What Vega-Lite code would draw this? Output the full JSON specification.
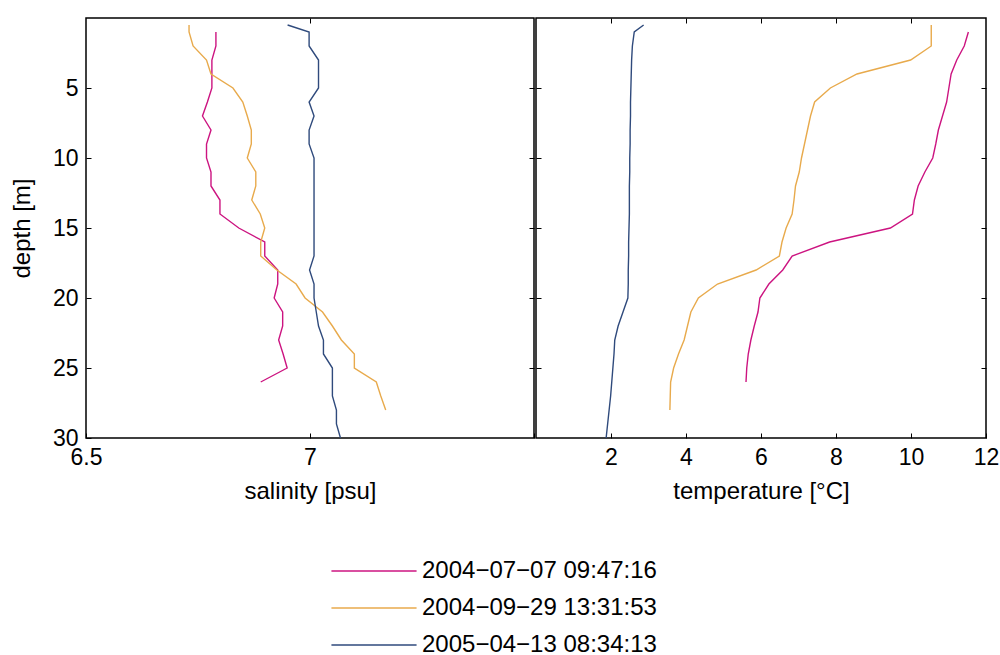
{
  "$schema": "https://vega.github.io/schema/vega-lite/v6.json",
  "padding": {"left": 9, "top": 16, "right": 5, "bottom": 0},
  "background": "white",
  "config": {
    "font": "Liberation Sans",
    "view": {"stroke": "black", "strokeWidth": 1.5},
    "axis": {
      "grid": false,
      "domain": false,
      "tickColor": "black",
      "tickSize": -5,
      "tickWidth": 1,
      "labelColor": "black",
      "labelFont": "Liberation Sans",
      "labelFontSize": 23,
      "labelPadding": 13,
      "titleFont": "Liberation Sans",
      "titleFontSize": 24,
      "titleFontWeight": "normal",
      "titleColor": "black"
    },
    "legend": {
      "labelFont": "Liberation Sans",
      "labelFontSize": 24,
      "labelColor": "black",
      "labelLimit": 500
    }
  },
  "data": {
    "values": [
      {"date": "2004−07−07 09:47:16", "depth": 1, "salinity": 6.790, "temperature": 11.53},
      {"date": "2004−07−07 09:47:16", "depth": 2, "salinity": 6.790, "temperature": 11.42},
      {"date": "2004−07−07 09:47:16", "depth": 3, "salinity": 6.781, "temperature": 11.22},
      {"date": "2004−07−07 09:47:16", "depth": 4, "salinity": 6.781, "temperature": 11.07},
      {"date": "2004−07−07 09:47:16", "depth": 5, "salinity": 6.781, "temperature": 11.01},
      {"date": "2004−07−07 09:47:16", "depth": 6, "salinity": 6.771, "temperature": 10.95},
      {"date": "2004−07−07 09:47:16", "depth": 7, "salinity": 6.760, "temperature": 10.84},
      {"date": "2004−07−07 09:47:16", "depth": 8, "salinity": 6.779, "temperature": 10.73},
      {"date": "2004−07−07 09:47:16", "depth": 9, "salinity": 6.769, "temperature": 10.66},
      {"date": "2004−07−07 09:47:16", "depth": 10, "salinity": 6.769, "temperature": 10.58},
      {"date": "2004−07−07 09:47:16", "depth": 11, "salinity": 6.779, "temperature": 10.37},
      {"date": "2004−07−07 09:47:16", "depth": 12, "salinity": 6.779, "temperature": 10.19},
      {"date": "2004−07−07 09:47:16", "depth": 13, "salinity": 6.799, "temperature": 10.09},
      {"date": "2004−07−07 09:47:16", "depth": 14, "salinity": 6.799, "temperature": 10.04},
      {"date": "2004−07−07 09:47:16", "depth": 15, "salinity": 6.841, "temperature": 9.45},
      {"date": "2004−07−07 09:47:16", "depth": 16, "salinity": 6.899, "temperature": 7.83},
      {"date": "2004−07−07 09:47:16", "depth": 17, "salinity": 6.899, "temperature": 6.83},
      {"date": "2004−07−07 09:47:16", "depth": 18, "salinity": 6.928, "temperature": 6.58},
      {"date": "2004−07−07 09:47:16", "depth": 19, "salinity": 6.928, "temperature": 6.21},
      {"date": "2004−07−07 09:47:16", "depth": 20, "salinity": 6.920, "temperature": 5.97},
      {"date": "2004−07−07 09:47:16", "depth": 21, "salinity": 6.939, "temperature": 5.92},
      {"date": "2004−07−07 09:47:16", "depth": 22, "salinity": 6.939, "temperature": 5.82},
      {"date": "2004−07−07 09:47:16", "depth": 23, "salinity": 6.930, "temperature": 5.73},
      {"date": "2004−07−07 09:47:16", "depth": 24, "salinity": 6.940, "temperature": 5.66},
      {"date": "2004−07−07 09:47:16", "depth": 25, "salinity": 6.949, "temperature": 5.62},
      {"date": "2004−07−07 09:47:16", "depth": 26, "salinity": 6.890, "temperature": 5.60},

      {"date": "2004−09−29 13:31:53", "depth": 0.5, "salinity": 6.730, "temperature": 10.54},
      {"date": "2004−09−29 13:31:53", "depth": 1, "salinity": 6.730, "temperature": 10.54},
      {"date": "2004−09−29 13:31:53", "depth": 2, "salinity": 6.739, "temperature": 10.54},
      {"date": "2004−09−29 13:31:53", "depth": 3, "salinity": 6.769, "temperature": 9.99},
      {"date": "2004−09−29 13:31:53", "depth": 4, "salinity": 6.779, "temperature": 8.56},
      {"date": "2004−09−29 13:31:53", "depth": 5, "salinity": 6.828, "temperature": 7.85},
      {"date": "2004−09−29 13:31:53", "depth": 6, "salinity": 6.850, "temperature": 7.43},
      {"date": "2004−09−29 13:31:53", "depth": 7, "salinity": 6.860, "temperature": 7.32},
      {"date": "2004−09−29 13:31:53", "depth": 8, "salinity": 6.869, "temperature": 7.24},
      {"date": "2004−09−29 13:31:53", "depth": 9, "salinity": 6.869, "temperature": 7.16},
      {"date": "2004−09−29 13:31:53", "depth": 10, "salinity": 6.860, "temperature": 7.08},
      {"date": "2004−09−29 13:31:53", "depth": 11, "salinity": 6.879, "temperature": 7.02},
      {"date": "2004−09−29 13:31:53", "depth": 12, "salinity": 6.879, "temperature": 6.92},
      {"date": "2004−09−29 13:31:53", "depth": 13, "salinity": 6.870, "temperature": 6.88},
      {"date": "2004−09−29 13:31:53", "depth": 14, "salinity": 6.889, "temperature": 6.83},
      {"date": "2004−09−29 13:31:53", "depth": 15, "salinity": 6.899, "temperature": 6.67},
      {"date": "2004−09−29 13:31:53", "depth": 16, "salinity": 6.890, "temperature": 6.56},
      {"date": "2004−09−29 13:31:53", "depth": 17, "salinity": 6.890, "temperature": 6.49},
      {"date": "2004−09−29 13:31:53", "depth": 18, "salinity": 6.926, "temperature": 5.87},
      {"date": "2004−09−29 13:31:53", "depth": 19, "salinity": 6.969, "temperature": 4.84},
      {"date": "2004−09−29 13:31:53", "depth": 20, "salinity": 6.989, "temperature": 4.33},
      {"date": "2004−09−29 13:31:53", "depth": 21, "salinity": 7.028, "temperature": 4.13},
      {"date": "2004−09−29 13:31:53", "depth": 22, "salinity": 7.050, "temperature": 4.04},
      {"date": "2004−09−29 13:31:53", "depth": 23, "salinity": 7.070, "temperature": 3.95},
      {"date": "2004−09−29 13:31:53", "depth": 24, "salinity": 7.099, "temperature": 3.80},
      {"date": "2004−09−29 13:31:53", "depth": 25, "salinity": 7.099, "temperature": 3.67},
      {"date": "2004−09−29 13:31:53", "depth": 26, "salinity": 7.148, "temperature": 3.59},
      {"date": "2004−09−29 13:31:53", "depth": 27, "salinity": 7.158, "temperature": 3.58},
      {"date": "2004−09−29 13:31:53", "depth": 28, "salinity": 7.169, "temperature": 3.57},

      {"date": "2005−04−13 08:34:13", "depth": 0.5, "salinity": 6.950, "temperature": 2.87},
      {"date": "2005−04−13 08:34:13", "depth": 1, "salinity": 6.998, "temperature": 2.62},
      {"date": "2005−04−13 08:34:13", "depth": 2, "salinity": 6.998, "temperature": 2.57},
      {"date": "2005−04−13 08:34:13", "depth": 3, "salinity": 7.019, "temperature": 2.55},
      {"date": "2005−04−13 08:34:13", "depth": 4, "salinity": 7.019, "temperature": 2.54},
      {"date": "2005−04−13 08:34:13", "depth": 5, "salinity": 7.019, "temperature": 2.53},
      {"date": "2005−04−13 08:34:13", "depth": 6, "salinity": 6.998, "temperature": 2.52},
      {"date": "2005−04−13 08:34:13", "depth": 7, "salinity": 7.009, "temperature": 2.52},
      {"date": "2005−04−13 08:34:13", "depth": 8, "salinity": 6.998, "temperature": 2.51},
      {"date": "2005−04−13 08:34:13", "depth": 9, "salinity": 6.998, "temperature": 2.51},
      {"date": "2005−04−13 08:34:13", "depth": 10, "salinity": 7.009, "temperature": 2.50},
      {"date": "2005−04−13 08:34:13", "depth": 11, "salinity": 7.009, "temperature": 2.50},
      {"date": "2005−04−13 08:34:13", "depth": 12, "salinity": 7.009, "temperature": 2.49},
      {"date": "2005−04−13 08:34:13", "depth": 13, "salinity": 7.009, "temperature": 2.49},
      {"date": "2005−04−13 08:34:13", "depth": 14, "salinity": 7.009, "temperature": 2.49},
      {"date": "2005−04−13 08:34:13", "depth": 15, "salinity": 7.009, "temperature": 2.48},
      {"date": "2005−04−13 08:34:13", "depth": 16, "salinity": 7.009, "temperature": 2.47},
      {"date": "2005−04−13 08:34:13", "depth": 17, "salinity": 7.009, "temperature": 2.47},
      {"date": "2005−04−13 08:34:13", "depth": 18, "salinity": 6.999, "temperature": 2.46},
      {"date": "2005−04−13 08:34:13", "depth": 19, "salinity": 7.009, "temperature": 2.46},
      {"date": "2005−04−13 08:34:13", "depth": 20, "salinity": 7.009, "temperature": 2.45},
      {"date": "2005−04−13 08:34:13", "depth": 21, "salinity": 7.014, "temperature": 2.32},
      {"date": "2005−04−13 08:34:13", "depth": 22, "salinity": 7.019, "temperature": 2.19},
      {"date": "2005−04−13 08:34:13", "depth": 23, "salinity": 7.030, "temperature": 2.10},
      {"date": "2005−04−13 08:34:13", "depth": 24, "salinity": 7.030, "temperature": 2.08},
      {"date": "2005−04−13 08:34:13", "depth": 25, "salinity": 7.050, "temperature": 2.05},
      {"date": "2005−04−13 08:34:13", "depth": 26, "salinity": 7.050, "temperature": 2.02},
      {"date": "2005−04−13 08:34:13", "depth": 27, "salinity": 7.050, "temperature": 1.99},
      {"date": "2005−04−13 08:34:13", "depth": 28, "salinity": 7.059, "temperature": 1.95},
      {"date": "2005−04−13 08:34:13", "depth": 29, "salinity": 7.059, "temperature": 1.91},
      {"date": "2005−04−13 08:34:13", "depth": 30, "salinity": 7.068, "temperature": 1.87}
    ]
  },
  "spacing": -4,
  "resolve": {"scale": {"color": "shared"}},
  "hconcat": [
    {
      "width": 448,
      "height": 420,
      "layer": [
        {
          "mark": {"type": "line", "strokeWidth": 1.4, "clip": true},
          "encoding": {
            "x": {"field": "salinity", "type": "quantitative",
                  "scale": {"domain": [6.5, 7.5], "nice": false, "zero": false},
                  "axis": {"orient": "bottom", "values": [6.5, 7, 7.5], "format": ".1~f", "labelExpr": "datum.value == 7.5 ? '' : datum.label", "title": "salinity [psu]", "titlePadding": 10, "labelFlush": false}},
            "y": {"field": "depth", "type": "quantitative",
                  "scale": {"domain": [0, 30], "reverse": true, "nice": false, "zero": false},
                  "axis": {"orient": "left", "values": [5, 10, 15, 20, 25, 30], "title": "depth [m]", "titlePadding": 18, "labelFlush": false}},
            "order": {"field": "depth", "type": "quantitative"},
            "color": {"field": "date", "type": "nominal",
                      "scale": {"domain": ["2004−07−07 09:47:16", "2004−09−29 13:31:53", "2005−04−13 08:34:13"], "range": ["#CC1480", "#E8AA4C", "#2F4A7C"]},
                      "legend": {"orient": "none", "legendX": 276, "legendY": 541, "title": null, "symbolType": "M-4,0H4", "symbolSize": 453, "symbolStrokeWidth": 1.4, "symbolFillColor": "transparent", "labelOffset": 36, "rowPadding": 13, "padding": 0}}
          }
        },
        {
          "mark": {"type": "point", "opacity": 0},
          "encoding": {
            "x": {"field": "salinity", "type": "quantitative",
                  "axis": {"orient": "top", "values": [7], "labels": false, "title": null, "minExtent": 0, "maxExtent": 0}},
            "y": {"field": "depth", "type": "quantitative",
                  "axis": {"orient": "right", "values": [5, 10, 15, 20, 25], "labels": false, "title": null, "minExtent": 0, "maxExtent": 0}}
          }
        }
      ],
      "resolve": {"axis": {"x": "independent", "y": "independent"}}
    },
    {
      "width": 450,
      "height": 420,
      "layer": [
        {
          "mark": {"type": "line", "strokeWidth": 1.4, "clip": true},
          "encoding": {
            "x": {"field": "temperature", "type": "quantitative",
                  "scale": {"domain": [0, 12], "nice": false, "zero": false},
                  "axis": {"orient": "bottom", "values": [2, 4, 6, 8, 10, 12], "title": "temperature [°C]", "titlePadding": 10, "labelFlush": false}},
            "y": {"field": "depth", "type": "quantitative",
                  "scale": {"domain": [0, 30], "reverse": true, "nice": false, "zero": false},
                  "axis": {"orient": "left", "values": [5, 10, 15, 20, 25], "labels": false, "title": null, "minExtent": 0, "maxExtent": 0}},
            "order": {"field": "depth", "type": "quantitative"},
            "color": {"field": "date", "type": "nominal", "legend": null}
          }
        },
        {
          "mark": {"type": "point", "opacity": 0},
          "encoding": {
            "x": {"field": "temperature", "type": "quantitative",
                  "axis": {"orient": "top", "values": [2, 4, 6, 8, 10], "labels": false, "title": null, "minExtent": 0, "maxExtent": 0}},
            "y": {"field": "depth", "type": "quantitative",
                  "axis": {"orient": "right", "values": [5, 10, 15, 20, 25], "labels": false, "title": null, "minExtent": 0, "maxExtent": 0}}
          }
        }
      ],
      "resolve": {"axis": {"x": "independent", "y": "independent"}}
    }
  ]
}
